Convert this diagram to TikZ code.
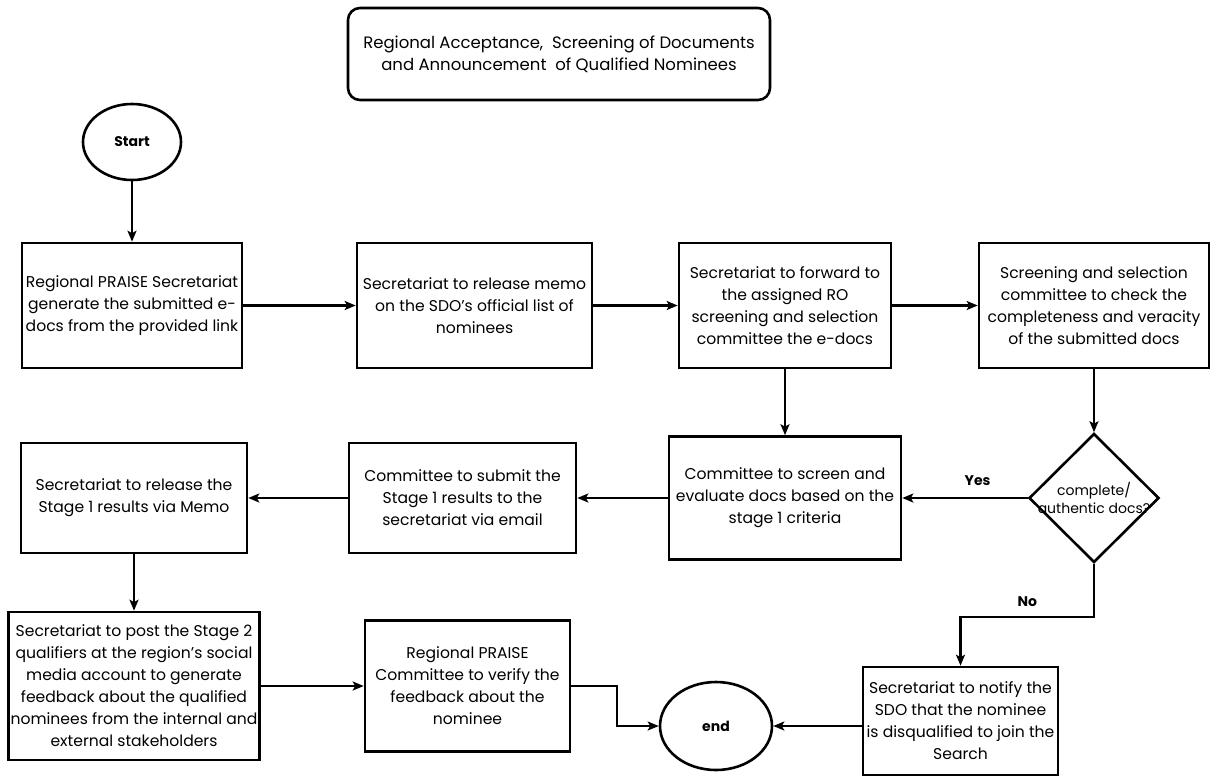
\documentclass[tikz,border=0pt]{standalone}
\usepackage{fontspec}
\setmainfont{Poppins}
\usepackage{tikz}
\usetikzlibrary{shapes.geometric, arrows, arrows.meta, positioning}
\tikzstyle{arrow} = [line width=2.2pt,->,>={Stealth[length=11pt,width=9pt,inset=2.5pt]}]

\begin{document}
\begin{tikzpicture}[
    x=1pt, y=-1pt,
    every node/.style={font=\fontsize{15.6}{22}\selectfont, align=center},
    process/.style={draw, line width=2.6pt, rectangle, inner sep=0pt},
    terminal/.style={draw, line width=2.6pt, ellipse, inner sep=0pt, font=\fontsize{14}{16}\bfseries\selectfont},
    decision/.style={draw, line width=2.6pt, diamond, inner sep=0pt, minimum width=130pt, minimum height=129pt},
    answer/.style={font=\fontsize{14}{16}\bfseries\selectfont}
]
\useasboundingbox (0,0) rectangle (1210,777);

% Nodes
\node (title) [process, rounded corners=12pt, minimum width=422pt, minimum height=92pt, font=\fontsize{16.5}{22}\selectfont] at (559,54) {Regional Acceptance,\ \ Screening of Documents\\and Announcement\ \ of Qualified Nominees};
\node (start) [terminal, minimum width=98pt, minimum height=76pt] at (132,142) {Start};

\node (gen) [process, minimum width=220pt, minimum height=125pt] at (132,305.5) {Regional PRAISE Secretariat\\generate the submitted e-\\docs from the provided link};
\node (memo) [process, minimum width=235pt, minimum height=125pt] at (474.5,305.5) {Secretariat to release memo\\on the SDO's official list of\\nominees};
\node (forward) [process, minimum width=212pt, minimum height=125pt] at (785,305.5) {Secretariat to forward to\\the assigned RO\\screening and selection\\committee the e-docs};
\node (check) [process, minimum width=230pt, minimum height=125pt] at (1094,305.5) {Screening and selection\\committee to check the\\completeness and veracity\\of the submitted docs};

\node (complete) [decision, label={[align=center, font=\fontsize{14}{18}\selectfont]center:complete/\\authentic docs?}] at (1094,498) {};
\node (evaluate) [process, minimum width=232pt, minimum height=123pt] at (785,498) {Committee to screen and\\evaluate docs based on the\\stage 1 criteria};
\node (submit) [process, minimum width=227pt, minimum height=110pt] at (462.5,498) {Committee to submit the\\Stage 1 results to the\\secretariat via email};
\node (results) [process, minimum width=226pt, minimum height=110pt] at (134,498) {Secretariat to release the\\Stage 1 results via Memo};

\node (post) [process, minimum width=251pt, minimum height=148pt] at (134,686) {Secretariat to post the Stage 2\\qualifiers at the region's social\\media account to generate\\feedback about the qualified\\nominees from the internal and\\external stakeholders};
\node (verify) [process, minimum width=205pt, minimum height=131pt] at (467.5,686) {Regional PRAISE\\Committee to verify the\\feedback about the\\nominee};
\node (end) [terminal, minimum width=112pt, minimum height=88pt] at (716,726) {end};
\node (notify) [process, minimum width=195pt, minimum height=108pt] at (960.5,721) {Secretariat to notify the\\SDO that the nominee\\is disqualified to join the\\Search};

% Arrows
\draw [arrow] (start) -- (gen);
\draw [arrow] (gen) -- (memo);
\draw [arrow] (memo) -- (forward);
\draw [arrow] (forward) -- (check);
\draw [arrow] (check) -- (complete);
\draw [arrow] (forward) -- (evaluate);
\draw [arrow] (complete) -- node[answer, above=8pt, pos=0.4] {Yes} (evaluate);
\draw [arrow] (evaluate) -- (submit);
\draw [arrow] (submit) -- (results);
\draw [arrow] (results) -- (post);
\draw [arrow] (post) -- (verify);
\draw [arrow] (verify.east) -- ++(46,0) |- (end.west);
\draw [arrow] (complete.south) -- ++(0,53) -| node[answer, above=6pt, pos=0.25] {No} (notify.north);
\draw [arrow] (notify.west |- end) -- (end);

\end{tikzpicture}
\end{document}
